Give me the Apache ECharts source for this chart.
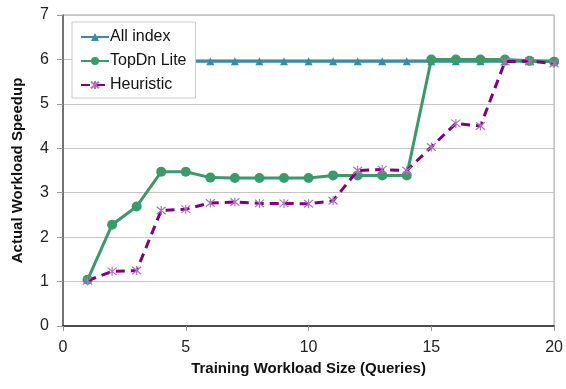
<!DOCTYPE html>
<html>
<head>
<meta charset="utf-8">
<script src="https://cdn.jsdelivr.net/npm/echarts@6/dist/echarts.min.js"></script>
<style>
  html, body { margin: 0; padding: 0; background: #fff; }
  #chart { width: 566px; height: 389px; }
</style>
</head>
<body>
<div id="chart"></div>
<script>
// Training workload sizes (number of queries)
const workloadSizes = [1, 2, 3, 4, 5, 6, 7, 8, 9, 10, 11, 12, 13, 14, 15, 16, 17, 18, 19, 20];

// Actual workload speedup per approach
const allIndex = [5.96, 5.96, 5.96, 5.96, 5.96, 5.96, 5.96, 5.96, 5.96, 5.96,
                  5.96, 5.96, 5.96, 5.96, 5.96, 5.96, 5.96, 5.96, 5.96, 5.96];
const topDnLite = [1.04, 2.28, 2.69, 3.47, 3.47, 3.34, 3.33, 3.33, 3.33, 3.33,
                   3.39, 3.39, 3.39, 3.39, 6.0, 6.0, 6.0, 6.0, 5.97, 5.95];
const heuristic = [1.02, 1.23, 1.25, 2.6, 2.63, 2.77, 2.79, 2.76, 2.76, 2.75,
                   2.82, 3.5, 3.52, 3.5, 4.03, 4.56, 4.5, 5.95, 5.96, 5.91];

const seriesNames = ['All index', 'TopDn Lite', 'Heuristic'];
const xTicks = { min: 0, max: 20, interval: 5 };
const yTicks = { min: 0, max: 7, interval: 1 };

const pairs = (ys) => workloadSizes.map((x, i) => [x, ys[i]]);

const asterisk = 'path://M0,0L10,10M10,0L0,10M5,-1L5,11';

const chart = echarts.init(document.getElementById('chart'), null, { renderer: 'canvas' });

chart.setOption({
  animation: false,
  backgroundColor: '#ffffff',
  textStyle: { fontFamily: 'Liberation Sans, Arial, sans-serif' },
  grid: {
    left: 63, right: 10, top: 15, bottom: 63,
    show: true, borderColor: '#a0a0a0', borderWidth: 1
  },
  legend: {
    orient: 'vertical',
    left: 72, top: 22,
    width: 123,
    padding: [7, 9, 5, 8],
    itemGap: 8,
    itemWidth: 28,
    itemHeight: 10,
    backgroundColor: '#ffffff',
    borderColor: '#cccccc',
    borderWidth: 1,
    textStyle: { fontSize: 16, color: '#111', fontFamily: 'Liberation Sans, Arial, sans-serif', padding: [0, 0, 0, -4] },
    data: seriesNames
  },
  xAxis: {
    type: 'value',
    min: xTicks.min, max: xTicks.max, interval: xTicks.interval,
    name: 'Training Workload Size (Queries)',
    nameLocation: 'middle',
    nameGap: 35,
    nameTextStyle: { fontSize: 15, fontWeight: 'bold', color: '#111' },
    axisLine: { show: true, onZero: false, lineStyle: { color: '#222', width: 1.5 } },
    axisTick: { show: true, length: 5, lineStyle: { color: '#999' } },
    axisLabel: { fontSize: 16, color: '#222', margin: 14 },
    splitLine: { show: false }
  },
  yAxis: {
    type: 'value',
    min: yTicks.min, max: yTicks.max, interval: yTicks.interval,
    name: 'Actual Workload Speedup',
    nameLocation: 'middle',
    nameGap: 38,
    nameTextStyle: { fontSize: 15, fontWeight: 'bold', color: '#111' },
    axisLine: { show: true, lineStyle: { color: '#555', width: 1.5 } },
    axisTick: { show: true, length: 6, lineStyle: { color: '#999' } },
    axisLabel: { fontSize: 16, color: '#222', margin: 14 },
    splitLine: { show: true, lineStyle: { color: '#c4c4c4', width: 1 } }
  },
  series: [
    {
      name: seriesNames[0],
      type: 'line',
      data: pairs(allIndex),
      symbol: 'triangle',
      symbolSize: 8,
      lineStyle: { color: '#3a8ba5', width: 3 },
      itemStyle: { color: '#3a8ba5' },
      z: 2
    },
    {
      name: seriesNames[1],
      type: 'line',
      data: pairs(topDnLite),
      symbol: 'circle',
      symbolSize: 10,
      lineStyle: { color: '#3a9a6a', width: 3 },
      itemStyle: { color: '#3a9a6a' },
      z: 3
    },
    {
      name: seriesNames[2],
      type: 'line',
      data: pairs(heuristic),
      symbol: asterisk,
      symbolSize: 9,
      lineStyle: { color: '#800080', width: 3, type: [9, 6] },
      itemStyle: { color: 'none', borderColor: '#b070c0', borderWidth: 1.2 },
      z: 4
    }
  ]
});
</script>
</body>
</html>
